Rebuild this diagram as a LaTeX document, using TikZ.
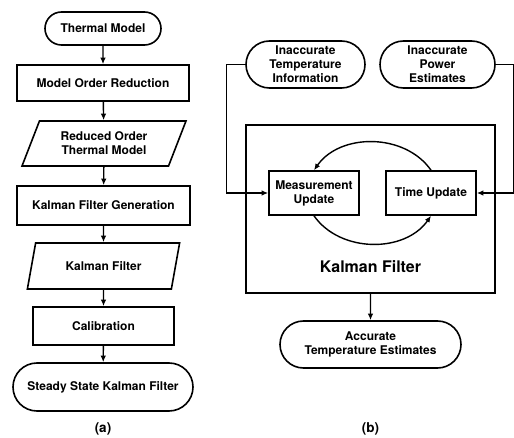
\documentclass[tikz,border=0pt]{standalone}
\usepackage{fontspec}
\setmainfont{TeX Gyre Heros}
\usetikzlibrary{shapes.misc,shapes.geometric,arrows.meta}
\tikzset{
  block/.style={draw, line width=1.6pt, rectangle, inner sep=0pt, align=center,
    font=\bfseries\fontsize{12}{14}\selectfont},
  term/.style={block, rounded rectangle},
  data/.style={block, trapezium, trapezium left angle=63, trapezium right angle=117,
    trapezium stretches=true},
  flow/.style={line width=1.4pt, -{Latex[length=6.5pt,width=5.5pt]}},
  caption/.style={font=\bfseries\fontsize{13.5}{15}\selectfont},
}
\begin{document}
\begin{tikzpicture}[x=1pt, y=-1pt]
    \useasboundingbox (0, 0) rectangle (514, 438);
    % (a) design flow
    \node [term, minimum width=116, minimum height=33] (tm) at (103, 28.5) {Thermal Model};
    \node [block, minimum width=172, minimum height=36] (mor) at (103, 83) {Model Order Reduction};
    \node [data, minimum width=164, minimum height=45] (rom) at (104, 143.5) {Reduced Order\\Thermal Model};
    \node [block, minimum width=173, minimum height=39] (kfg) at (103.5, 205.5) {Kalman Filter Generation};
    \node [data, minimum width=153, minimum height=46] (kfd) at (103.5, 266) {Kalman Filter};
    \node [block, minimum width=141, minimum height=38] (cal) at (103.5, 326) {Calibration};
    \node [term, minimum width=180, minimum height=48] (sskf) at (103, 387) {Steady State Kalman Filter};
    %
    \draw [flow] (tm) -- (mor);
    \draw [flow] (mor) -- (rom);
    \draw [flow] (rom) -- (kfg);
    \draw [flow] (kfg) -- (kfd);
    \draw [flow] (kfd) -- (cal);
    \draw [flow] (cal) -- (sskf);
    %
    \node [caption] (capa) at (103, 429) {(a)};
    % (b) kalman filter loop
    \node [block, minimum width=249, minimum height=168] (kf) at (370.5, 209) {};
    \node [font=\bfseries\fontsize{16}{18}\selectfont] (kflabel) at (370.5, 267) {Kalman Filter};
    \node [term, minimum width=119, minimum height=47] (iti) at (305.5, 64.5) {Inaccurate\\Temperature\\Information};
    \node [term, minimum width=115, minimum height=47] (ipe) at (437.5, 64.5) {Inaccurate\\Power\\Estimates};
    \node [block, minimum width=90, minimum height=44] (mu) at (314, 193) {Measurement\\Update};
    \node [block, minimum width=90, minimum height=44] (tu) at (431, 193) {Time Update};
    \node [term, minimum width=181, minimum height=47] (ate) at (370.5, 344.5) {Accurate\\Temperature Estimates};
    % inputs
    \draw [flow] (iti.west) -- ++(-19, 0) |- (mu.west);
    \draw [flow] (ipe.east) -- ++(18, 0) |- (tu.east);
    % predict / correct cycle
    \draw [flow] (tu.north) to [bend right=55] (mu.north);
    \draw [flow] (mu.south) to [bend right=55] (tu.south);
    % output
    \draw [flow] (kf) -- (ate);
    %
    \node [caption] (capb) at (370.5, 429) {(b)};
\end{tikzpicture}
\end{document}
